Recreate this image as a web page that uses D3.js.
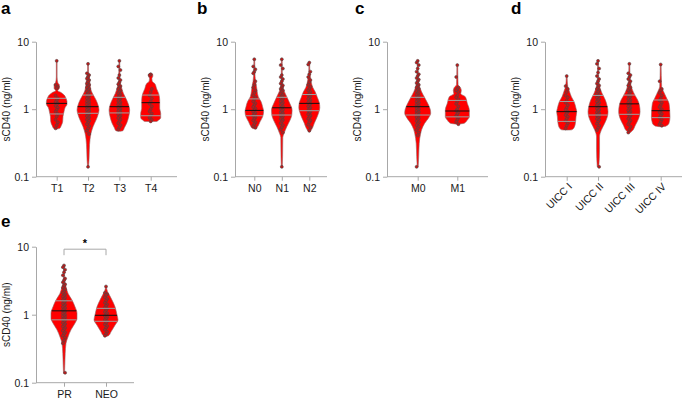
<!DOCTYPE html>
<html>
<head>
<meta charset="utf-8">
<script src="https://cdn.jsdelivr.net/npm/d3@7"></script>
<style>
  body { margin: 0; background: #fff; }
  text { font-family: "Liberation Sans", Arial, sans-serif; }
</style>
</head>
<body>
<div id="chart"></div>
<script>
// ---- data (sCD40, ng/ml) ----
// violin outlines: [value, relative density]

// a: T stage
var tCats = ["T1", "T2", "T3", "T4"];
var tMedian = [1.22, 1.09, 1.09, 1.25];
var tQ1 = [0.85, 0.87, 0.88, 0.8];
var tQ3 = [1.45, 1.62, 1.5, 1.62];
var tShape = [
  [[5.2,0.4],[3.0,0.4],[2.45,1.2],[2.3,2.6],[2.05,2.6],[1.88,1.0],[1.78,4],[1.62,7.5],[1.45,9.3],[1.3,10.3],[1.18,10.3],[1.05,8.3],[0.92,7.3],[0.78,6.3],[0.66,6],[0.57,4.5],[0.52,3],[0.51,0.4]],
  [[4.7,0.4],[3.6,0.5],[3.3,1.0],[2.42,2],[1.92,3],[1.65,5],[1.37,8],[1.15,10],[0.97,11],[0.83,10],[0.69,8],[0.55,5],[0.44,3],[0.36,2],[0.25,1.3],[0.18,1],[0.14,0.5]],
  [[5.2,0.4],[2.6,0.8],[2.15,2],[1.72,4],[1.37,7.3],[1.15,9.3],[0.97,10.3],[0.77,9.3],[0.62,7.3],[0.53,5],[0.48,3.5],[0.47,0.4]],
  [[3.4,0.4],[3.3,2],[3.1,2.2],[2.85,1.2],[2.6,1.5],[2.4,4],[2.0,6],[1.7,8],[1.37,9],[1.03,9],[0.87,10],[0.75,10],[0.69,8],[0.66,6],[0.655,0.4]]
];
var tPoints = [
  [5.2, 2.3, 2.15, 2.05, 1.6, 1.45, 1.35, 1.28, 1.22, 1.18, 1.12, 1.05, 0.98, 0.92, 0.85, 0.78, 0.7, 0.64, 0.58, 0.52],
  [4.7, 3.4, 3.2, 3.0, 2.85, 2.7, 2.55, 2.4, 2.3, 2.2, 2.1, 2.0, 1.92, 1.85, 1.78, 1.7, 1.63, 1.57, 1.5, 1.45, 1.4, 1.35, 1.3, 1.26, 1.22, 1.18, 1.14, 1.1, 1.07, 1.04, 1.0, 0.97, 0.94, 0.91, 0.88, 0.85, 0.82, 0.79, 0.76, 0.73, 0.7, 0.67, 0.63, 0.6, 0.56, 0.52, 0.48, 0.43, 0.14],
  [5.2, 4.3, 3.8, 3.2, 2.9, 2.7, 2.5, 2.35, 2.2, 2.1, 2.0, 1.9, 1.8, 1.72, 1.65, 1.58, 1.5, 1.44, 1.38, 1.32, 1.27, 1.22, 1.17, 1.13, 1.09, 1.05, 1.01, 0.97, 0.94, 0.9, 0.87, 0.84, 0.8, 0.77, 0.74, 0.7, 0.66, 0.62, 0.58, 0.54, 0.5],
  [3.3, 3.2, 2.0, 1.8, 1.6, 1.45, 1.3, 1.2, 1.1, 1.0, 0.93, 0.86, 0.8, 0.75, 0.7, 0.66]
];

// b: N stage
var nCats = ["N0", "N1", "N2"];
var nMedian = [0.96, 1.05, 1.22];
var nQ1 = [0.8, 0.82, 0.95];
var nQ3 = [1.42, 1.5, 1.65];
var nShape = [
  [[5.5,0.4],[3.6,0.6],[2.6,1.2],[2.42,1.7],[1.92,2.7],[1.53,4],[1.3,6.7],[1.09,8.3],[0.92,9.3],[0.77,8.3],[0.65,5.7],[0.55,3.3],[0.52,2],[0.515,0.4]],
  [[5.5,0.4],[2.6,0.6],[2.42,1],[1.92,2],[1.53,5],[1.22,8],[0.97,10.3],[0.82,10],[0.69,8.3],[0.55,5],[0.44,2.3],[0.38,1],[0.2,0.8],[0.14,0.5]],
  [[4.9,0.4],[3.5,0.5],[3.0,1.2],[2.5,2],[2.1,3.5],[1.8,6],[1.5,8],[1.25,10],[1.05,10.5],[0.9,9.5],[0.75,7.5],[0.62,5],[0.52,3],[0.47,1],[0.46,0.4]]
];
var nPoints = [
  [5.5, 4.3, 3.9, 3.6, 3.4, 2.6, 2.3, 2.1, 1.9, 1.75, 1.6, 1.5, 1.4, 1.3, 1.22, 1.15, 1.08, 1.02, 0.97, 0.92, 0.88, 0.84, 0.8, 0.76, 0.72, 0.68, 0.64, 0.6, 0.56, 0.53],
  [5.5, 4.5, 4.0, 3.2, 3.0, 2.8, 2.6, 2.4, 2.25, 2.1, 2.0, 1.9, 1.8, 1.7, 1.62, 1.55, 1.48, 1.42, 1.36, 1.3, 1.25, 1.2, 1.15, 1.1, 1.06, 1.02, 0.98, 0.94, 0.9, 0.87, 0.84, 0.81, 0.78, 0.75, 0.72, 0.69, 0.66, 0.62, 0.58, 0.54, 0.5, 0.45, 0.14],
  [4.9, 4.6, 3.6, 3.3, 3.0, 2.7, 2.5, 2.3, 2.15, 2.0, 1.9, 1.8, 1.7, 1.62, 1.55, 1.48, 1.42, 1.36, 1.3, 1.25, 1.2, 1.15, 1.1, 1.05, 1.0, 0.96, 0.92, 0.88, 0.84, 0.8, 0.76, 0.72, 0.68, 0.64, 0.59, 0.54, 0.48]
];

// c: M stage
var mCats = ["M0", "M1"];
var mMedian = [1.09, 0.94];
var mQ1 = [0.82, 0.77];
var mQ3 = [1.5, 1.35];
var mShape = [
  [[5.2,0.4],[3.0,0.6],[2.15,2],[1.8,4],[1.53,6.5],[1.22,10],[1.0,12.5],[0.87,13],[0.75,11],[0.62,7],[0.5,4],[0.44,3],[0.31,1.5],[0.2,1],[0.14,0.5]],
  [[4.5,0.4],[2.3,0.8],[2.1,3],[1.9,4],[1.7,3.5],[1.53,8],[1.22,10],[0.97,12],[0.77,12],[0.69,10],[0.62,7],[0.6,0.4]]
];
var mPoints = [
  [5.2, 4.9, 4.5, 4.0, 3.6, 3.3, 3.1, 2.9, 2.75, 2.6, 2.45, 2.3, 2.2, 2.1, 2.0, 1.92, 1.85, 1.78, 1.7, 1.64, 1.58, 1.52, 1.46, 1.4, 1.35, 1.3, 1.25, 1.2, 1.16, 1.12, 1.08, 1.04, 1.0, 0.97, 0.94, 0.91, 0.88, 0.85, 0.82, 0.79, 0.76, 0.73, 0.7, 0.67, 0.64, 0.61, 0.58, 0.55, 0.52, 0.49, 0.45, 0.41, 0.14],
  [4.5, 3.0, 2.1, 2.0, 1.9, 1.8, 1.6, 1.5, 1.4, 1.3, 1.2, 1.1, 1.0, 0.95, 0.9, 0.85, 0.8, 0.75, 0.7, 0.65, 0.6]
];

// d: UICC stage
var uCats = ["UICC I", "UICC II", "UICC III", "UICC IV"];
var uMedian = [0.92, 1.09, 1.2, 0.95];
var uQ1 = [0.66, 0.82, 0.84, 0.75];
var uQ3 = [1.3, 1.6, 1.62, 1.37];
var uShape = [
  [[3.1,0.4],[2.2,1],[1.85,2.7],[1.53,4.7],[1.3,7.3],[1.03,9.3],[0.92,10],[0.77,9.3],[0.62,8.7],[0.53,7.3],[0.495,5],[0.49,0.4]],
  [[5.2,0.4],[3.0,0.6],[2.15,1.7],[1.72,4],[1.37,7.3],[1.09,9.3],[0.92,10],[0.77,9.3],[0.62,6.7],[0.49,3.3],[0.39,1.5],[0.25,1.5],[0.14,0.8]],
  [[4.7,0.4],[2.6,1],[2.0,2.7],[1.6,5.7],[1.37,8.3],[1.15,10],[0.92,10.7],[0.73,9.3],[0.58,6],[0.47,2.5],[0.445,0.4]],
  [[4.6,0.4],[2.15,1],[1.85,2.7],[1.45,6],[1.22,8.3],[0.97,9],[0.77,9.3],[0.62,8.3],[0.56,5],[0.55,0.4]]
];
var uPoints = [
  [3.1, 2.2, 2.0, 1.8, 1.6, 1.5, 1.35, 1.25, 1.15, 1.05, 0.98, 0.92, 0.87, 0.82, 0.77, 0.72, 0.67, 0.62, 0.57, 0.52],
  [5.2, 4.7, 4.0, 3.5, 3.1, 2.8, 2.6, 2.4, 2.25, 2.1, 2.0, 1.9, 1.8, 1.7, 1.62, 1.55, 1.48, 1.42, 1.36, 1.3, 1.25, 1.2, 1.15, 1.1, 1.06, 1.02, 0.98, 0.94, 0.9, 0.87, 0.84, 0.81, 0.78, 0.75, 0.72, 0.69, 0.65, 0.61, 0.57, 0.53, 0.49, 0.14],
  [4.7, 3.4, 3.2, 3.0, 2.8, 2.6, 2.4, 2.25, 2.1, 2.0, 1.9, 1.8, 1.7, 1.62, 1.55, 1.48, 1.42, 1.36, 1.3, 1.25, 1.2, 1.15, 1.1, 1.05, 1.0, 0.96, 0.92, 0.88, 0.84, 0.8, 0.76, 0.72, 0.68, 0.64, 0.6, 0.55, 0.5, 0.45],
  [4.6, 2.6, 2.0, 1.9, 1.75, 1.6, 1.45, 1.35, 1.25, 1.15, 1.08, 1.0, 0.95, 0.9, 0.85, 0.8, 0.75, 0.7, 0.65, 0.6, 0.57]
];

// e: primary vs neoadjuvant
var eCats = ["PR", "NEO"];
var eMedian = [1.14, 0.98];
var eQ1 = [0.84, 0.8];
var eQ3 = [1.6, 1.24];
var eShape = [
  [[5.4,0.4],[3.2,0.7],[2.6,2],[2.06,4],[1.64,8],[1.31,11],[1.05,13],[0.88,13],[0.75,11],[0.6,7],[0.47,4],[0.38,2],[0.27,1.2],[0.18,0.8],[0.137,0.5]],
  [[2.6,0.4],[2.2,1.5],[2.06,2.5],[1.64,6],[1.31,9],[0.99,11],[0.84,12],[0.7,9],[0.56,5],[0.49,2.5],[0.48,0.4]]
];
var ePoints = [
  [5.3, 5.0, 4.6, 4.2, 3.8, 3.4, 3.2, 3.0, 2.8, 2.65, 2.5, 2.35, 2.2, 2.1, 2.0, 1.92, 1.85, 1.78, 1.7, 1.64, 1.58, 1.52, 1.46, 1.4, 1.35, 1.3, 1.25, 1.2, 1.16, 1.12, 1.08, 1.04, 1.0, 0.97, 0.94, 0.91, 0.88, 0.85, 0.82, 0.79, 0.76, 0.73, 0.7, 0.67, 0.64, 0.61, 0.58, 0.55, 0.52, 0.49, 0.46, 0.42, 0.38, 0.14],
  [2.6, 2.1, 2.0, 1.95, 1.8, 1.7, 1.6, 1.5, 1.42, 1.35, 1.28, 1.22, 1.16, 1.1, 1.05, 1.0, 0.96, 0.92, 0.88, 0.84, 0.8, 0.76, 0.72, 0.68, 0.64, 0.6, 0.56, 0.52, 0.49]
];
var eSignif = ["PR", "NEO", "*"];

var yTicks = [0.1, 1, 10];
var yTitle = "sCD40 (ng/ml)";

// ---- layout ----
var width = 683, height = 401;
var svg = d3.select("#chart").append("svg")
    .attr("width", width)
    .attr("height", height);

var panels = [
  {letter: "a", lx: 1, ly: 14, ax: 36, x0: 56.7, x1: 150.7, end: 177, top: 41.7, bot: 176.7,
   cats: tCats, shape: tShape, pts: tPoints, med: tMedian, q1: tQ1, q3: tQ3},
  {letter: "b", lx: 197, ly: 14, ax: 235, x0: 254.3, x1: 309.3, end: 327, top: 41.7, bot: 176.7,
   cats: nCats, shape: nShape, pts: nPoints, med: nMedian, q1: nQ1, q3: nQ3},
  {letter: "c", lx: 355, ly: 14, ax: 387, x0: 417.7, x1: 457.3, end: 488, top: 41.7, bot: 176.7,
   cats: mCats, shape: mShape, pts: mPoints, med: mMedian, q1: mQ1, q3: mQ3},
  {letter: "d", lx: 511, ly: 14, ax: 545, x0: 566.7, x1: 660.7, end: 682, top: 41.7, bot: 176.7,
   cats: uCats, shape: uShape, pts: uPoints, med: uMedian, q1: uQ1, q3: uQ3, rotate: true},
  {letter: "e", lx: 1, ly: 227, ax: 36, x0: 64, x1: 106, end: 134, top: 246.7, bot: 382.7,
   cats: eCats, shape: eShape, pts: ePoints, med: eMedian, q1: eQ1, q3: eQ3, signif: eSignif}
];

var axisColor = "#a8a8a8";
var jitter = [0, -1.1, 1.1];

panels.forEach(drawPanel);

// width of the violin at a given value (linear in log space)
function halfAt(shape, v) {
  for (var i = 0; i < shape.length - 1; i++) {
    var a = shape[i], b = shape[i + 1];
    if (v <= a[0] && v >= b[0]) {
      var t = (Math.log(a[0]) - Math.log(v)) / (Math.log(a[0]) - Math.log(b[0]));
      return a[1] + t * (b[1] - a[1]);
    }
  }
  return 0;
}

function drawPanel(p) {
  var g = svg.append("g");

  var y = d3.scaleLog().domain([0.1, 10]).range([p.bot, p.top]);
  var x = d3.scalePoint().domain(p.cats).range([p.x0, p.x1]);
  var w = d3.scaleLinear().domain([0, 10]).range([0, 10]);

  // panel letter
  g.append("text")
    .attr("x", p.lx).attr("y", p.ly)
    .attr("font-size", 17).attr("font-weight", "bold")
    .text(p.letter);

  // y axis
  var yAxis = g.append("g")
    .attr("transform", "translate(" + p.ax + ",0)")
    .call(d3.axisLeft(y).tickValues(yTicks).tickFormat(d3.format("~g"))
      .tickSize(4).tickSizeOuter(0).tickPadding(3));
  yAxis.select(".domain").attr("stroke", axisColor);
  yAxis.selectAll(".tick line").attr("stroke", axisColor);
  yAxis.selectAll(".tick text").attr("font-size", 10.5).attr("fill", "#1a1a1a")
    .attr("font-family", "Liberation Sans, Arial, sans-serif");

  g.append("text")
    .attr("transform", "translate(" + (p.ax - 26) + "," + ((p.top + p.bot) / 2) + ") rotate(-90)")
    .attr("text-anchor", "middle")
    .attr("font-size", 10).attr("fill", "#1a1a1a")
    .text(yTitle);

  // x axis
  g.append("line")
    .attr("x1", p.ax).attr("x2", p.end)
    .attr("y1", p.bot).attr("y2", p.bot)
    .attr("stroke", axisColor);
  var xAxis = g.append("g")
    .attr("transform", "translate(0," + p.bot + ")")
    .call(d3.axisBottom(x).tickSize(4).tickSizeOuter(0).tickPadding(4));
  xAxis.select(".domain").remove();
  xAxis.selectAll(".tick line").attr("stroke", axisColor);
  var xt = xAxis.selectAll(".tick text").attr("font-size", 10.5).attr("fill", "#1a1a1a")
    .attr("font-family", "Liberation Sans, Arial, sans-serif");
  if (p.rotate) {
    xt.attr("text-anchor", "end")
      .attr("y", 0).attr("dy", "0.35em")
      .attr("transform", "translate(3,8) rotate(-45)");
  }

  // violins
  p.cats.forEach(function(c, i) {
    var cx = x(c);
    var shape = p.shape[i];
    var area = d3.area()
      .curve(d3.curveMonotoneY)
      .y(function(d) { return y(d[0]); })
      .x0(function(d) { return cx - w(d[1]); })
      .x1(function(d) { return cx + w(d[1]); });

    g.append("path")
      .datum(shape)
      .attr("d", area)
      .attr("fill", "#ff0000")
      .attr("stroke", "#8f6a6a")
      .attr("stroke-width", 0.6);

    g.selectAll(null)
      .data(p.pts[i])
      .enter().append("circle")
      .attr("cx", function(d, j) { return cx + jitter[j % 3]; })
      .attr("cy", function(d) { return y(d); })
      .attr("r", 1.5)
      .attr("fill", "#c01818")
      .attr("stroke", "#4a4a4a")
      .attr("stroke-width", 0.55);

    [[p.q1[i], "#a0a0a0"], [p.q3[i], "#a0a0a0"], [p.med[i], "#111"]].forEach(function(q) {
      var hw = w(halfAt(shape, q[0]));
      g.append("line")
        .attr("x1", cx - hw).attr("x2", cx + hw)
        .attr("y1", y(q[0])).attr("y2", y(q[0]))
        .attr("stroke", q[1])
        .attr("stroke-width", 1);
    });
  });

  // significance bracket
  if (p.signif) {
    var bx0 = x(p.signif[0]), bx1 = x(p.signif[1]);
    var by = p.top + 2.5;
    g.append("path")
      .attr("d", "M" + bx0 + "," + (by + 6) + "V" + by + "H" + bx1 + "V" + (by + 6))
      .attr("fill", "none")
      .attr("stroke", axisColor)
      .attr("stroke-width", 1);
    g.append("text")
      .attr("x", (bx0 + bx1) / 2).attr("y", by - 2)
      .attr("text-anchor", "middle")
      .attr("font-size", 11)
      .attr("font-weight", "bold")
      .text(p.signif[2]);
  }
}
</script>
</body>
</html>
